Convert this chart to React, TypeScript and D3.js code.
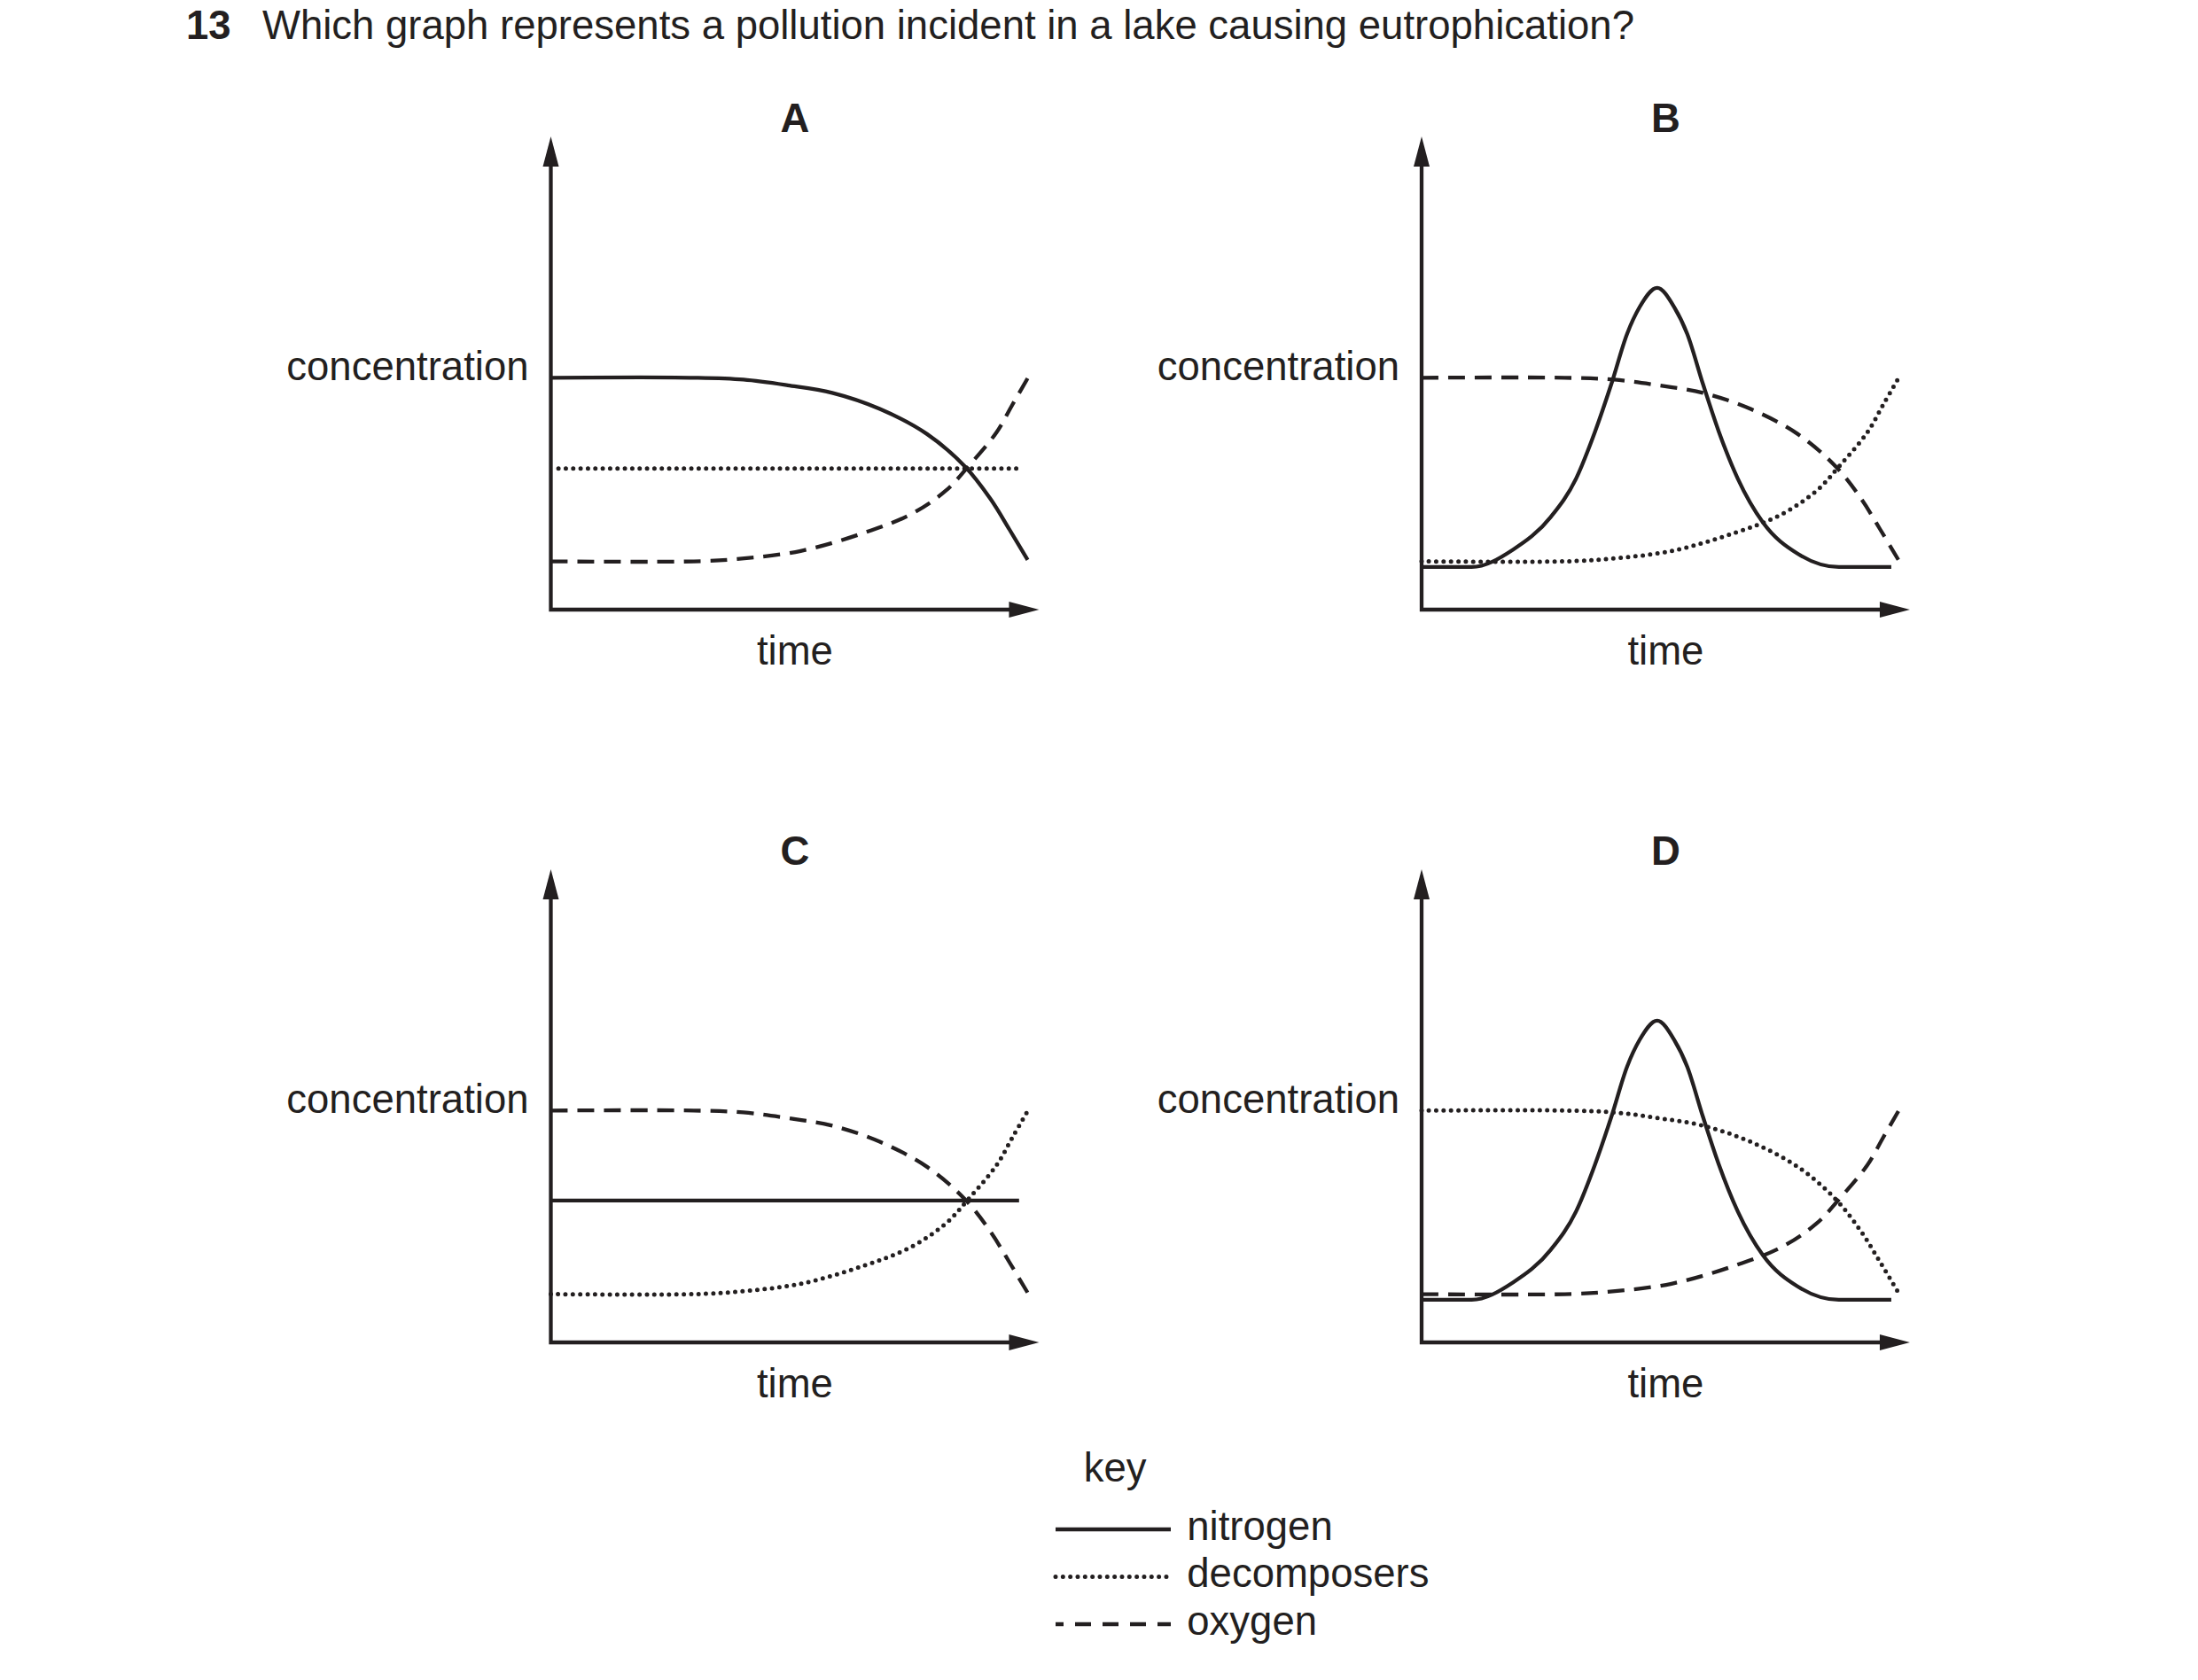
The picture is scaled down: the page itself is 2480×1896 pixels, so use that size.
import * as d3 from 'd3';

// time runs 0..100 along each x axis (100 = end of the drawn curves),
// concentration 0..100 up each y axis (100 = arrow tip)
const QUESTION_NO = '13';
const QUESTION = 'Which graph represents a pollution incident in a lake causing eutrophication?';
const PANEL_LETTERS = ['A', 'B', 'C', 'D'];
const KEY_LABELS = ['nitrogen', 'decomposers', 'oxygen'];

// falling S-shape (A nitrogen, B/C oxygen, D decomposers)
const declineT = [0, 30, 40.4, 49.7, 59, 69, 78.9, 86.9, 92.2, 96.2, 100];
const declineC = [49, 49, 48.6, 47.4, 45.8, 42.4, 37.1, 30.2, 23.4, 16.9, 10.5];

// rising curve (A/D oxygen, B/C decomposers)
const riseT = [0, 30, 39.1, 52.4, 65.6, 75.6, 82.9, 87.5, 93.5, 96.8, 100];
const riseC = [10.2, 10.2, 10.7, 12.4, 16.2, 20.2, 25.2, 30.2, 37.5, 43.3, 48.9];

// nitrogen peak (B, D)
const peakT = [0, 10.5, 19.2, 27.1, 32.4, 36.4, 39.8, 43.1, 45.7, 49.4, 53, 55.7, 59, 62.3, 66.3, 71.6, 78.9, 87.5, 98.5];
const peakC = [9, 9, 12.7, 19.6, 27.7, 37.7, 47.7, 58.3, 63.9, 68, 63.9, 58.3, 47.7, 37.7, 27.7, 18.4, 11.8, 9, 9];

// flat lines
const flatDecompT = [1.6, 97.9];
const flatDecompC = [29.8, 29.8];
const flatNitroT = [0, 98.2];
const flatNitroC = [30, 30];

type Kind = 'nitrogen' | 'decomposers' | 'oxygen';
interface Series { kind: Kind; t: number[]; c: number[]; peak?: boolean }

const panelSeries: Series[][] = [
  [
    { kind: 'decomposers', t: flatDecompT, c: flatDecompC },
    { kind: 'oxygen', t: riseT, c: riseC },
    { kind: 'nitrogen', t: declineT, c: declineC },
  ],
  [
    { kind: 'decomposers', t: riseT, c: riseC },
    { kind: 'oxygen', t: declineT, c: declineC },
    { kind: 'nitrogen', t: peakT, c: peakC, peak: true },
  ],
  [
    { kind: 'decomposers', t: riseT, c: riseC },
    { kind: 'oxygen', t: declineT, c: declineC },
    { kind: 'nitrogen', t: flatNitroT, c: flatNitroC },
  ],
  [
    { kind: 'decomposers', t: declineT, c: declineC },
    { kind: 'oxygen', t: riseT, c: riseC },
    { kind: 'nitrogen', t: peakT, c: peakC, peak: true },
  ],
];

const INK = '#231f20';
const FONT = '"Liberation Sans", Arial, Helvetica, sans-serif';
const FS = 45.5;
const SW = 4.3;

const dashFor = (k: Kind) => (k === 'oxygen' ? '19 11' : k === 'decomposers' ? '0 8.33' : undefined);
const widthFor = (k: Kind) => (k === 'decomposers' ? 5 : SW);

const ORIGINS = [
  [621.5, 688],
  [1604, 688],
  [621.5, 1515],
  [1604, 1515],
];
const PLOT_W = 538;
const PLOT_H = 534;
const AXIS_T_MAX = 102.4;
const HEAD = 34;
const HEAD_HALF = 9;

function Panel({ idx }: { idx: number }) {
  const [ox, oy] = ORIGINS[idx];
  const x = d3.scaleLinear().domain([0, 100]).range([ox, ox + PLOT_W]);
  const y = d3.scaleLinear().domain([0, 100]).range([oy, oy - PLOT_H]);
  const smooth = d3.line<[number, number]>().x((d) => x(d[0])).y((d) => y(d[1])).curve(d3.curveCatmullRom.alpha(0.5));
  // monotone keeps the flat nitrogen base from dipping either side of the peak
  const mono = d3.line<[number, number]>().x((d) => x(d[0])).y((d) => y(d[1])).curve(d3.curveMonotoneX);
  const top = y(100);
  const tip = x(AXIS_T_MAX);
  const mid = (x(0) + tip) / 2;

  return (
    <g>
      <text x={mid} y={oy - 539} textAnchor="middle" fontWeight="bold" fontSize={FS} fontFamily={FONT} fill={INK}>
        {PANEL_LETTERS[idx]}
      </text>
      <path d={`M${x(0)},${top + HEAD - 2}V${oy}H${tip - HEAD + 2}`} fill="none" stroke={INK} strokeWidth={SW} strokeLinejoin="miter" />
      <path d={`M${x(0)},${top}L${x(0) - HEAD_HALF},${top + HEAD}L${x(0) + HEAD_HALF},${top + HEAD}Z`} fill={INK} />
      <path d={`M${tip},${oy}L${tip - HEAD},${oy - HEAD_HALF}L${tip - HEAD},${oy + HEAD_HALF}Z`} fill={INK} />
      <text x={x(0) - 25} y={oy - 259} textAnchor="end" fontSize={FS} fontFamily={FONT} fill={INK}>concentration</text>
      <text x={mid} y={oy + 62} textAnchor="middle" fontSize={FS} fontFamily={FONT} fill={INK}>time</text>
      {panelSeries[idx].map((s, i) => {
        const pts = s.t.map((t, j) => [t, s.c[j]] as [number, number]);
        return (
          <path
            key={i}
            d={(s.peak ? mono(pts) : smooth(pts)) ?? ''}
            fill="none"
            stroke={INK}
            strokeWidth={widthFor(s.kind)}
            strokeDasharray={dashFor(s.kind)}
            strokeLinecap={s.kind === 'decomposers' ? 'round' : 'butt'}
          />
        );
      })}
    </g>
  );
}

function Key() {
  const kinds: Kind[] = ['nitrogen', 'decomposers', 'oxygen'];
  const rowY = d3.scalePoint<number>().domain([0, 1, 2]).range([1726, 1833]);
  return (
    <g>
      <text x={1222.7} y={1671.7} fontSize={FS} fontFamily={FONT} fill={INK}>key</text>
      {kinds.map((k, i) => (
        <g key={k}>
          <line
            x1={1191}
            x2={1321}
            y1={rowY(i)}
            y2={rowY(i)}
            stroke={INK}
            strokeWidth={widthFor(k)}
            strokeDasharray={k === 'oxygen' ? '18 13' : dashFor(k)}
            strokeDashoffset={k === 'oxygen' ? 9 : 0}
            strokeLinecap={k === 'decomposers' ? 'round' : 'butt'}
          />
          <text x={1339.3} y={rowY(i)! + 11.5} fontSize={FS} fontFamily={FONT} fill={INK}>{KEY_LABELS[i]}</text>
        </g>
      ))}
    </g>
  );
}

export default function App() {
  return (
    <svg
      width={2480}
      height={1896}
      viewBox="0 0 2480 1896"
      style={{ position: 'absolute', left: 0, top: 0, background: '#fff' }}
    >
      <text x={210} y={43.5} fontSize={FS} fontFamily={FONT} fontWeight="bold" fill={INK}>{QUESTION_NO}</text>
      <text x={296} y={43.5} fontSize={FS} fontFamily={FONT} fill={INK}>{QUESTION}</text>
      {PANEL_LETTERS.map((_, i) => <Panel key={i} idx={i} />)}
      <Key />
    </svg>
  );
}
